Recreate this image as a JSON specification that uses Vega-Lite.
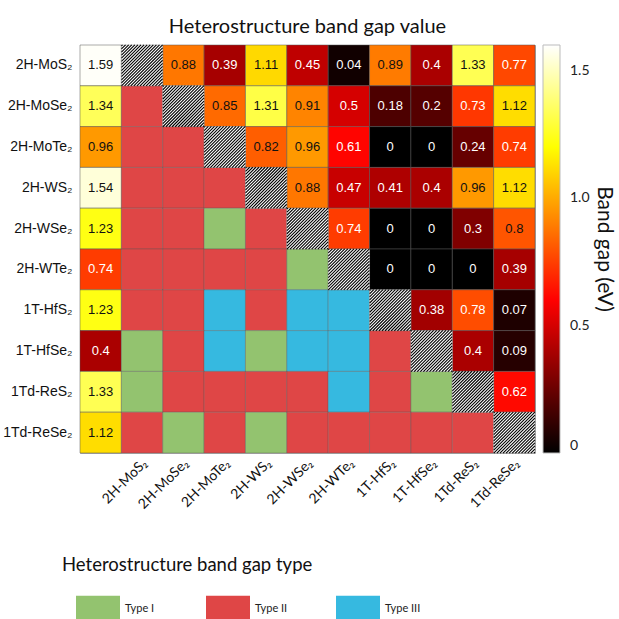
{
  "$schema": "https://vega.github.io/schema/vega-lite/v6.json",
  "width": 455,
  "height": 408,
  "autosize": {"type": "none"},
  "padding": {"left": 80, "top": 45, "right": 84, "bottom": 166},
  "background": "white",
  "title": {"text": "Heterostructure band gap value", "font": "Lato", "fontSize": 20, "fontWeight": "normal", "anchor": "middle", "baseline": "alphabetic", "offset": -10, "color": "#111"},
  "config": {"view": {"stroke": "#aaa", "strokeWidth": 1}},
  "datasets": {
    "gaps": [
      {"r": "2H-MoS₂", "c": "ML", "v": 1.59},
      {"r": "2H-MoS₂", "c": "2H-MoSe₂", "v": 0.88},
      {"r": "2H-MoS₂", "c": "2H-MoTe₂", "v": 0.39},
      {"r": "2H-MoS₂", "c": "2H-WS₂", "v": 1.11},
      {"r": "2H-MoS₂", "c": "2H-WSe₂", "v": 0.45},
      {"r": "2H-MoS₂", "c": "2H-WTe₂", "v": 0.04},
      {"r": "2H-MoS₂", "c": "1T-HfS₂", "v": 0.89},
      {"r": "2H-MoS₂", "c": "1T-HfSe₂", "v": 0.4},
      {"r": "2H-MoS₂", "c": "1Td-ReS₂", "v": 1.33},
      {"r": "2H-MoS₂", "c": "1Td-ReSe₂", "v": 0.77},
      {"r": "2H-MoSe₂", "c": "ML", "v": 1.34},
      {"r": "2H-MoSe₂", "c": "2H-MoTe₂", "v": 0.85},
      {"r": "2H-MoSe₂", "c": "2H-WS₂", "v": 1.31},
      {"r": "2H-MoSe₂", "c": "2H-WSe₂", "v": 0.91},
      {"r": "2H-MoSe₂", "c": "2H-WTe₂", "v": 0.5},
      {"r": "2H-MoSe₂", "c": "1T-HfS₂", "v": 0.18},
      {"r": "2H-MoSe₂", "c": "1T-HfSe₂", "v": 0.2},
      {"r": "2H-MoSe₂", "c": "1Td-ReS₂", "v": 0.73},
      {"r": "2H-MoSe₂", "c": "1Td-ReSe₂", "v": 1.12},
      {"r": "2H-MoTe₂", "c": "ML", "v": 0.96},
      {"r": "2H-MoTe₂", "c": "2H-WS₂", "v": 0.82},
      {"r": "2H-MoTe₂", "c": "2H-WSe₂", "v": 0.96},
      {"r": "2H-MoTe₂", "c": "2H-WTe₂", "v": 0.61},
      {"r": "2H-MoTe₂", "c": "1T-HfS₂", "v": 0},
      {"r": "2H-MoTe₂", "c": "1T-HfSe₂", "v": 0},
      {"r": "2H-MoTe₂", "c": "1Td-ReS₂", "v": 0.24},
      {"r": "2H-MoTe₂", "c": "1Td-ReSe₂", "v": 0.74},
      {"r": "2H-WS₂", "c": "ML", "v": 1.54},
      {"r": "2H-WS₂", "c": "2H-WSe₂", "v": 0.88},
      {"r": "2H-WS₂", "c": "2H-WTe₂", "v": 0.47},
      {"r": "2H-WS₂", "c": "1T-HfS₂", "v": 0.41},
      {"r": "2H-WS₂", "c": "1T-HfSe₂", "v": 0.4},
      {"r": "2H-WS₂", "c": "1Td-ReS₂", "v": 0.96},
      {"r": "2H-WS₂", "c": "1Td-ReSe₂", "v": 1.12},
      {"r": "2H-WSe₂", "c": "ML", "v": 1.23},
      {"r": "2H-WSe₂", "c": "2H-WTe₂", "v": 0.74},
      {"r": "2H-WSe₂", "c": "1T-HfS₂", "v": 0},
      {"r": "2H-WSe₂", "c": "1T-HfSe₂", "v": 0},
      {"r": "2H-WSe₂", "c": "1Td-ReS₂", "v": 0.3},
      {"r": "2H-WSe₂", "c": "1Td-ReSe₂", "v": 0.8},
      {"r": "2H-WTe₂", "c": "ML", "v": 0.74},
      {"r": "2H-WTe₂", "c": "1T-HfS₂", "v": 0},
      {"r": "2H-WTe₂", "c": "1T-HfSe₂", "v": 0},
      {"r": "2H-WTe₂", "c": "1Td-ReS₂", "v": 0},
      {"r": "2H-WTe₂", "c": "1Td-ReSe₂", "v": 0.39},
      {"r": "1T-HfS₂", "c": "ML", "v": 1.23},
      {"r": "1T-HfS₂", "c": "1T-HfSe₂", "v": 0.38},
      {"r": "1T-HfS₂", "c": "1Td-ReS₂", "v": 0.78},
      {"r": "1T-HfS₂", "c": "1Td-ReSe₂", "v": 0.07},
      {"r": "1T-HfSe₂", "c": "ML", "v": 0.4},
      {"r": "1T-HfSe₂", "c": "1Td-ReS₂", "v": 0.4},
      {"r": "1T-HfSe₂", "c": "1Td-ReSe₂", "v": 0.09},
      {"r": "1Td-ReS₂", "c": "ML", "v": 1.33},
      {"r": "1Td-ReS₂", "c": "1Td-ReSe₂", "v": 0.62},
      {"r": "1Td-ReSe₂", "c": "ML", "v": 1.12}
    ],
    "types": [
      {"r": "2H-MoSe₂", "c": "2H-MoS₂", "t": "Type II"},
      {"r": "2H-MoTe₂", "c": "2H-MoS₂", "t": "Type II"},
      {"r": "2H-MoTe₂", "c": "2H-MoSe₂", "t": "Type II"},
      {"r": "2H-WS₂", "c": "2H-MoS₂", "t": "Type II"},
      {"r": "2H-WS₂", "c": "2H-MoSe₂", "t": "Type II"},
      {"r": "2H-WS₂", "c": "2H-MoTe₂", "t": "Type II"},
      {"r": "2H-WSe₂", "c": "2H-MoS₂", "t": "Type II"},
      {"r": "2H-WSe₂", "c": "2H-MoSe₂", "t": "Type II"},
      {"r": "2H-WSe₂", "c": "2H-MoTe₂", "t": "Type I"},
      {"r": "2H-WSe₂", "c": "2H-WS₂", "t": "Type II"},
      {"r": "2H-WTe₂", "c": "2H-MoS₂", "t": "Type II"},
      {"r": "2H-WTe₂", "c": "2H-MoSe₂", "t": "Type II"},
      {"r": "2H-WTe₂", "c": "2H-MoTe₂", "t": "Type II"},
      {"r": "2H-WTe₂", "c": "2H-WS₂", "t": "Type II"},
      {"r": "2H-WTe₂", "c": "2H-WSe₂", "t": "Type I"},
      {"r": "1T-HfS₂", "c": "2H-MoS₂", "t": "Type II"},
      {"r": "1T-HfS₂", "c": "2H-MoSe₂", "t": "Type II"},
      {"r": "1T-HfS₂", "c": "2H-MoTe₂", "t": "Type III"},
      {"r": "1T-HfS₂", "c": "2H-WS₂", "t": "Type II"},
      {"r": "1T-HfS₂", "c": "2H-WSe₂", "t": "Type III"},
      {"r": "1T-HfS₂", "c": "2H-WTe₂", "t": "Type III"},
      {"r": "1T-HfSe₂", "c": "2H-MoS₂", "t": "Type I"},
      {"r": "1T-HfSe₂", "c": "2H-MoSe₂", "t": "Type II"},
      {"r": "1T-HfSe₂", "c": "2H-MoTe₂", "t": "Type III"},
      {"r": "1T-HfSe₂", "c": "2H-WS₂", "t": "Type I"},
      {"r": "1T-HfSe₂", "c": "2H-WSe₂", "t": "Type III"},
      {"r": "1T-HfSe₂", "c": "2H-WTe₂", "t": "Type III"},
      {"r": "1T-HfSe₂", "c": "1T-HfS₂", "t": "Type II"},
      {"r": "1Td-ReS₂", "c": "2H-MoS₂", "t": "Type I"},
      {"r": "1Td-ReS₂", "c": "2H-MoSe₂", "t": "Type II"},
      {"r": "1Td-ReS₂", "c": "2H-MoTe₂", "t": "Type II"},
      {"r": "1Td-ReS₂", "c": "2H-WS₂", "t": "Type II"},
      {"r": "1Td-ReS₂", "c": "2H-WSe₂", "t": "Type II"},
      {"r": "1Td-ReS₂", "c": "2H-WTe₂", "t": "Type III"},
      {"r": "1Td-ReS₂", "c": "1T-HfS₂", "t": "Type II"},
      {"r": "1Td-ReS₂", "c": "1T-HfSe₂", "t": "Type I"},
      {"r": "1Td-ReSe₂", "c": "2H-MoS₂", "t": "Type II"},
      {"r": "1Td-ReSe₂", "c": "2H-MoSe₂", "t": "Type I"},
      {"r": "1Td-ReSe₂", "c": "2H-MoTe₂", "t": "Type II"},
      {"r": "1Td-ReSe₂", "c": "2H-WS₂", "t": "Type I"},
      {"r": "1Td-ReSe₂", "c": "2H-WSe₂", "t": "Type II"},
      {"r": "1Td-ReSe₂", "c": "2H-WTe₂", "t": "Type II"},
      {"r": "1Td-ReSe₂", "c": "1T-HfS₂", "t": "Type II"},
      {"r": "1Td-ReSe₂", "c": "1T-HfSe₂", "t": "Type II"},
      {"r": "1Td-ReSe₂", "c": "1Td-ReS₂", "t": "Type II"}
    ],
    "diag": [
      {"r": "2H-MoS₂", "c": "2H-MoS₂"},
      {"r": "2H-MoSe₂", "c": "2H-MoSe₂"},
      {"r": "2H-MoTe₂", "c": "2H-MoTe₂"},
      {"r": "2H-WS₂", "c": "2H-WS₂"},
      {"r": "2H-WSe₂", "c": "2H-WSe₂"},
      {"r": "2H-WTe₂", "c": "2H-WTe₂"},
      {"r": "1T-HfS₂", "c": "1T-HfS₂"},
      {"r": "1T-HfSe₂", "c": "1T-HfSe₂"},
      {"r": "1Td-ReS₂", "c": "1Td-ReS₂"},
      {"r": "1Td-ReSe₂", "c": "1Td-ReSe₂"}
    ]
  },
  "encoding": {
    "x": {
      "field": "c", "type": "nominal",
      "scale": {"domain": ["ML", "2H-MoS₂", "2H-MoSe₂", "2H-MoTe₂", "2H-WS₂", "2H-WSe₂", "2H-WTe₂", "1T-HfS₂", "1T-HfSe₂", "1Td-ReS₂", "1Td-ReSe₂"], "paddingInner": 0, "paddingOuter": 0},
      "axis": {"title": null, "ticks": false, "domain": false, "labelAngle": -45, "labelAlign": "right", "labelBaseline": "middle", "labelFont": "Lato", "labelFontSize": 14, "labelColor": "#111", "labelPadding": 8, "labelOffset": 3, "labelExpr": "datum.value == 'ML' ? '' : datum.value"}
    },
    "y": {
      "field": "r", "type": "nominal",
      "scale": {"domain": ["2H-MoS₂", "2H-MoSe₂", "2H-MoTe₂", "2H-WS₂", "2H-WSe₂", "2H-WTe₂", "1T-HfS₂", "1T-HfSe₂", "1Td-ReS₂", "1Td-ReSe₂"], "paddingInner": 0, "paddingOuter": 0},
      "axis": {"title": null, "ticks": false, "domain": false, "labelFont": "Liberation Sans", "labelFontSize": 14, "labelColor": "#111", "labelPadding": 8}
    }
  },
  "layer": [
    {
      "data": {"name": "gaps"},
      "mark": {"type": "rect", "stroke": "#555", "strokeWidth": 0.5},
      "encoding": {
        "fill": {
          "field": "v", "type": "quantitative",
          "scale": {"domain": [0, 0.6, 1.2, 1.6], "range": ["#000000", "#ff0000", "#ffff00", "#ffffff"], "interpolate": "rgb"},
          "legend": {"title": "Band gap (eV)", "orient": "right", "offset": 8, "padding": 0, "gradientLength": 408, "gradientThickness": 17, "gradientStrokeColor": "#bbb", "gradientStrokeWidth": 1, "values": [0, 0.5, 1, 1.5], "labelExpr": "datum.value == 0 ? '0' : format(datum.value, '.1f')", "labelFont": "Lato", "labelFontSize": 14, "labelColor": "#222", "labelOffset": 10, "titleOrient": "right", "titleAnchor": "middle", "titleFont": "Lato", "titleFontSize": 21, "titleFontWeight": "normal", "titleColor": "#111", "titlePadding": 4}
        }
      }
    },
    {
      "data": {"name": "types"},
      "mark": {"type": "rect", "stroke": "#555", "strokeWidth": 0.6, "strokeOpacity": 0.6},
      "encoding": {
        "fill": {
          "field": "t", "type": "nominal",
          "scale": {"domain": ["Type I", "Type II", "Type III"], "range": ["#93c36f", "#df4646", "#36b9e0"]},
          "legend": {"title": "Heterostructure band gap type", "orient": "none", "legendX": -18, "legendY": 511, "direction": "horizontal", "columns": 3, "gridAlign": "all", "columnPadding": 31, "symbolType": "M-1,-0.6H1V0.6H-1Z", "symbolSize": 1936, "symbolStrokeWidth": 0, "symbolOpacity": 1, "symbolOffset": 14, "labelFont": "Lato", "labelFontSize": 11, "labelColor": "#222", "labelOffset": 5, "titleFont": "Lato", "titleFontSize": 18.5, "titleFontWeight": "normal", "titleColor": "#111", "titlePadding": 12, "titleLimit": 500, "padding": 0}
        }
      }
    },
    {
      "data": {"name": "diag"},
      "mark": {"type": "rect", "fill": "white", "stroke": "#888", "strokeWidth": 0.5}
    },
    {
      "data": {"name": "diag"},
      "mark": {"type": "point", "filled": false, "stroke": "black", "strokeWidth": 1.1, "opacity": 1, "size": 1690, "shape": "M-1,-0.95L-0.95,-1M-1,-0.8L-0.8,-1M-1,-0.65L-0.65,-1M-1,-0.5L-0.5,-1M-1,-0.35L-0.35,-1M-1,-0.2L-0.2,-1M-1,-0.05L-0.05,-1M-1,0.1L0.1,-1M-1,0.25L0.25,-1M-1,0.4L0.4,-1M-1,0.55L0.55,-1M-1,0.7L0.7,-1M-1,0.85L0.85,-1M-1,1L1,-1M-0.85,1L1,-0.85M-0.7,1L1,-0.7M-0.55,1L1,-0.55M-0.4,1L1,-0.4M-0.25,1L1,-0.25M-0.1,1L1,-0.1M0.05,1L1,0.05M0.2,1L1,0.2M0.35,1L1,0.35M0.5,1L1,0.5M0.65,1L1,0.65M0.8,1L1,0.8M0.95,1L1,0.95"}
    },
    {
      "data": {"name": "gaps"},
      "mark": {"type": "text", "font": "Liberation Sans", "fontSize": 13},
      "encoding": {
        "text": {"field": "v", "type": "nominal"},
        "color": {"condition": {"test": "datum.v >= 0.79", "value": "#111"}, "value": "white"}
      }
    }
  ],
  "resolve": {"scale": {"fill": "independent"}, "legend": {"fill": "independent"}}
}
